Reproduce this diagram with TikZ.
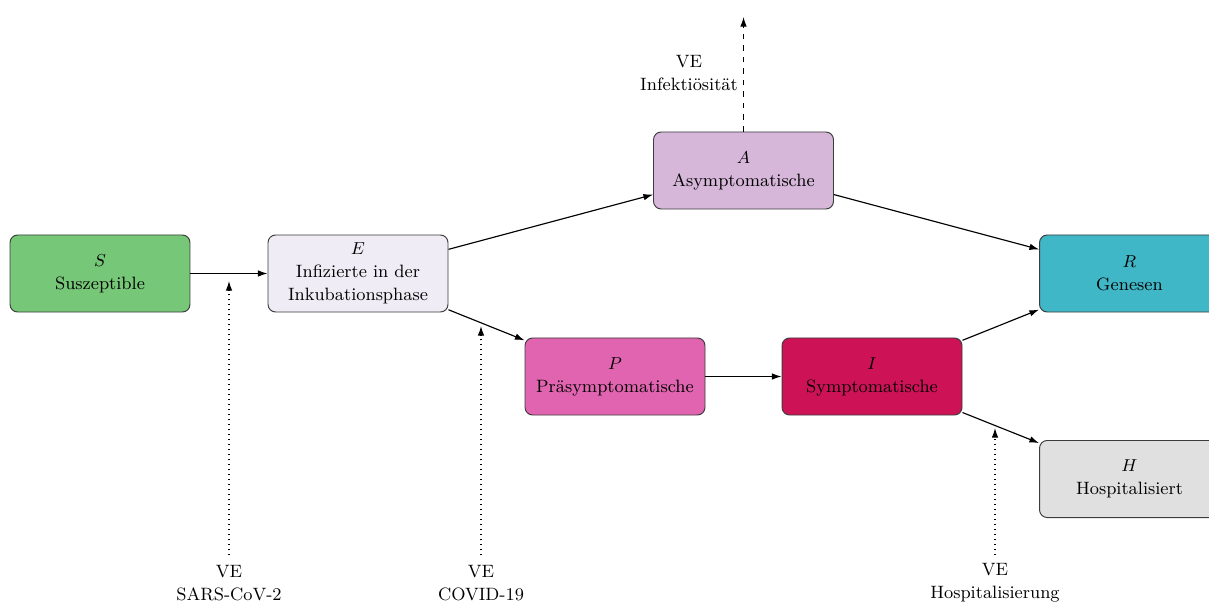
\documentclass[tikz,border=0pt]{standalone}
\usetikzlibrary{arrows.meta}
\definecolor{cS}{RGB}{118,199,120}
\definecolor{cE}{RGB}{240,236,245}
\definecolor{cA}{RGB}{214,183,218}
\definecolor{cP}{RGB}{224,100,175}
\definecolor{cI}{RGB}{205,18,85}
\definecolor{cR}{RGB}{64,183,198}
\definecolor{cH}{RGB}{224,224,224}
\definecolor{bord}{RGB}{60,60,60}
\tikzset{
  every node/.style={font=\fontsize{9.3}{12}\selectfont},
  box/.style={draw=bord, rounded corners=4pt, minimum width=93.7pt, minimum height=40.1pt, align=center, inner sep=2pt, line width=0.5pt},
  flow/.style={-{Latex[length=5pt,width=3.4pt]}, line width=0.6pt},
  ve/.style={-{Latex[length=5pt,width=3.4pt]}, dotted, line width=0.6pt},
  vedash/.style={-{Latex[length=5pt,width=3.4pt]}, dashed, line width=0.6pt},
  lbl/.style={align=center, inner sep=1pt}
}
\begin{document}
\begin{tikzpicture}[x=0.5206pt, y=-0.5206pt]
\clip (0,0) rectangle (1209,601);
\node[box, fill=cS] (S) at (100,273.5) {$S$\\Suszeptible};
\node[box, fill=cE] (E) at (358,273.5) {$E$\\Infizierte in der\\Inkubationsphase};
\node[box, fill=cA] (A) at (743.5,170.5) {$A$\\Asymptomatische};
\node[box, fill=cP] (P) at (615,376.5) {$P$\\Präsymptomatische};
\node[box, fill=cI] (I) at (872,376.5) {$I$\\Symptomatische};
\node[box, fill=cR] (R) at (1129.5,273.5) {$R$\\Genesen};
\node[box, fill=cH] (H) at (1129.5,479) {$H$\\Hospitalisiert};

\draw[flow] (S) -- (E);
\draw[flow] (E) -- (A);
\draw[flow] (E) -- (P);
\draw[flow] (A) -- (R);
\draw[flow] (P) -- (I);
\draw[flow] (I) -- (R);
\draw[flow] (I) -- (H);

\node[lbl] (l1) at (229,583) {VE\\SARS-CoV-2};
\node[lbl] (l2) at (481,583) {VE\\COVID-19};
\node[lbl] (l3) at (995,583) {VE\\Hospitalisierung};
\node[lbl] (l4) at (689,73) {VE\\Infektiösität};

\coordinate (t1) at (229,281);
\coordinate (t2) at (481,326);
\coordinate (t3) at (995,428);
\coordinate (t4) at (743.5,17);
\draw[ve] (229,555) -- (t1);
\draw[ve] (481,555) -- (t2);
\draw[ve] (995,555) -- (t3);
\draw[vedash] (A.north) -- (t4);
\end{tikzpicture}
\end{document}
